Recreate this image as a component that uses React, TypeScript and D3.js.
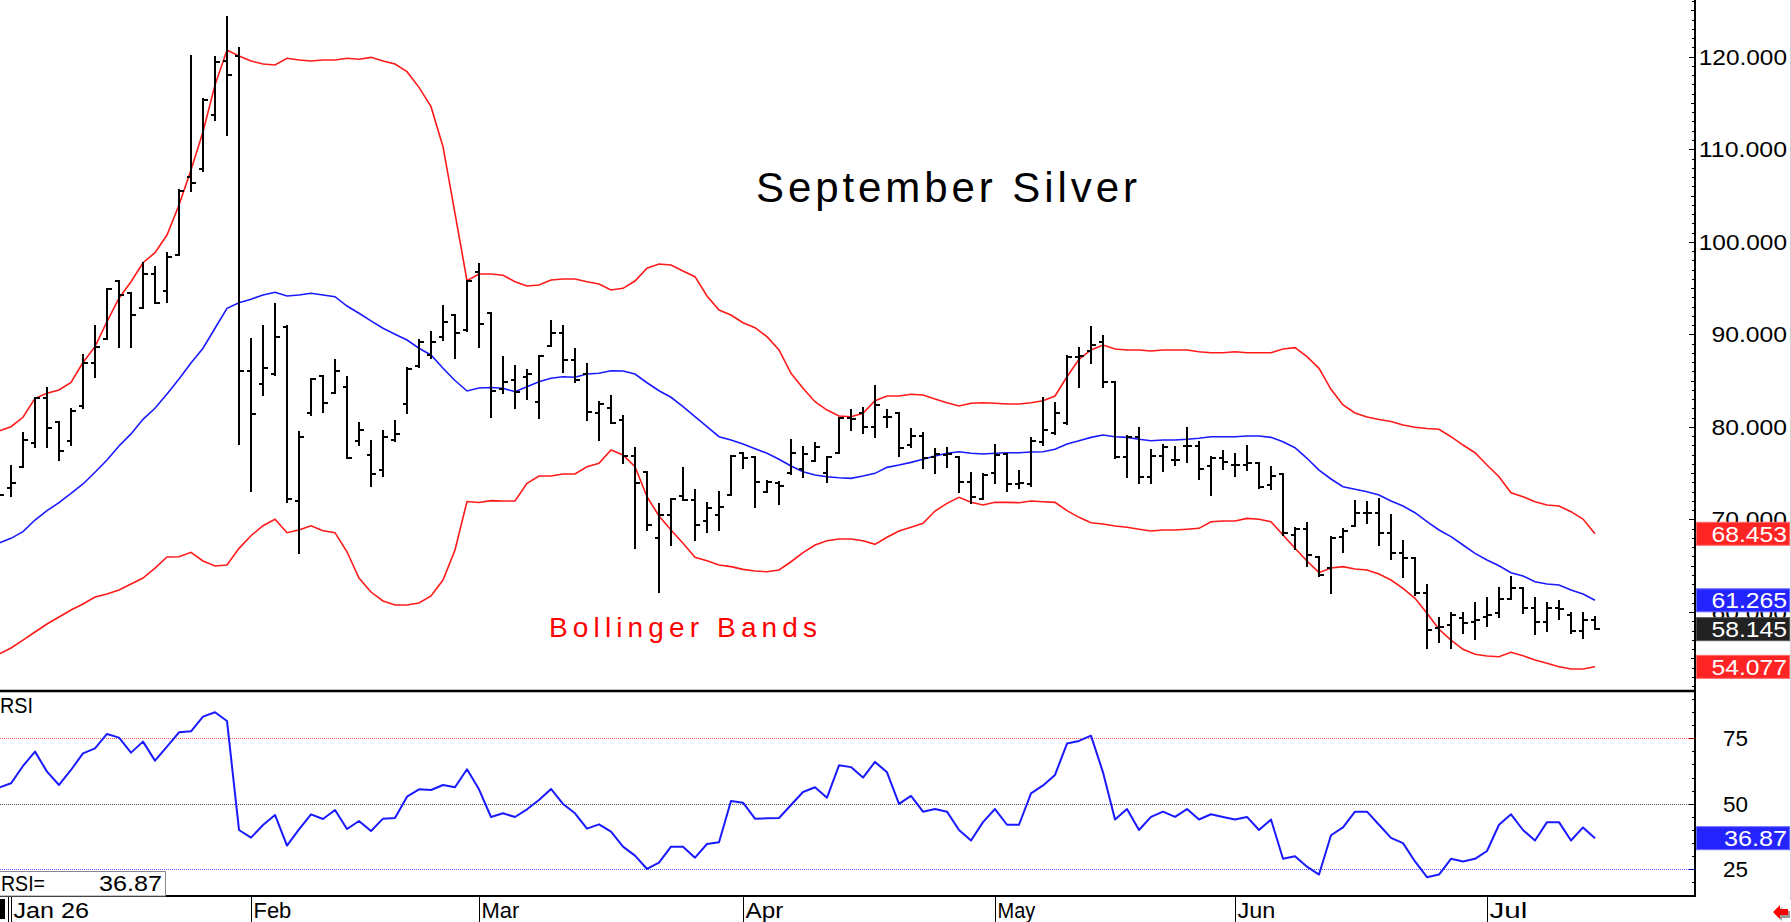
import * as d3 from "d3"

// bar index: -1 = last December session, 0 = Jan 2 ... 132 = Jul 15
const barIdx = d3.range(-1, 133)

const monthLabels = ["Jan 26", "Feb", "Mar", "Apr", "May", "Jun", "Jul"]
const monthStart = [0, 20, 39, 61, 82, 102, 123]

const opens = [
  73.0, 73.43, 75.7, 78.3, 83.16, 80.5, 78.51, 82.29, 86.94, 89.46, 95.76,
  94.44, 92.81, 96.52, 94.72, 98.57, 107.03, 107.83, 113.7, 119.57, 120.08,
  86.0, 84.63, 85.72, 90.83, 71.99, 81.47, 85.5, 83.7, 84.34, 78.51,
  76.96, 75.34, 78.58, 82.47, 86.58, 87.77, 89.71, 92.09, 90.47, 96.77,
  92.27, 84.06, 85.07, 85.39, 82.72, 88.74, 90.11, 87.23, 85.68, 81.47,
  82.01, 80.75, 76.86, 75.16, 68.03, 70.48, 72.57, 72.1, 69.86, 70.48,
  72.64, 77.15, 76.71, 73.0, 73.91, 74.99, 75.42, 76.35, 74.99, 77.15,
  80.93, 81.47, 80.02, 81.1, 81.47, 78.04, 79.05, 76.78, 76.96, 76.78,
  74.08, 72.21, 75.05, 77.07, 73.8, 73.8, 78.4, 79.31, 80.45, 87.52,
  88.23, 89.21, 84.88, 76.78, 78.88, 74.62, 76.86, 76.42, 77.97, 77.97,
  75.81, 76.61, 75.88, 75.88, 76.13, 73.72, 74.88, 68.32, 68.94, 65.97,
  64.72, 68.07, 69.29, 70.73, 70.73, 68.5, 66.34, 65.8, 62.09, 58.24,
  58.6, 59.32, 58.95, 59.49, 59.86, 61.4, 62.56, 60.46, 58.95, 60.46,
  59.68, 57.98, 59.14,
]
const highs = [
  74.0, 75.78, 79.31, 83.16, 84.17, 80.5, 81.9, 87.77, 90.9, 94.87, 95.76,
  94.44, 97.68, 97.31, 98.76, 105.6, 120.08, 115.46, 120.0, 124.26, 120.91,
  89.46, 90.9, 93.29, 90.9, 79.48, 85.18, 85.5, 87.23, 85.36, 80.39,
  78.48, 79.59, 80.64, 86.33, 89.39, 90.29, 93.05, 92.09, 95.8, 97.6,
  92.27, 87.52, 86.61, 86.15, 87.69, 91.47, 90.9, 88.42, 86.76, 82.72,
  83.34, 81.18, 77.75, 75.16, 71.67, 72.21, 75.53, 73.18, 71.81, 73.0,
  76.86, 77.15, 76.71, 74.15, 74.08, 78.58, 77.86, 78.23, 76.71, 80.93,
  81.83, 82.01, 84.42, 81.83, 81.47, 79.77, 79.37, 77.61, 77.69, 76.78,
  74.99, 74.88, 78.04, 77.07, 75.23, 78.77, 83.16, 82.61, 87.66, 88.49,
  90.76, 89.82, 84.88, 79.05, 79.85, 77.5, 78.04, 77.86, 79.85, 78.4,
  76.71, 77.43, 77.07, 77.94, 76.13, 75.7, 74.88, 69.04, 69.58, 65.97,
  68.07, 68.93, 71.99, 71.92, 72.21, 70.48, 67.7, 65.8, 62.92, 59.32,
  59.93, 59.86, 60.94, 61.48, 62.56, 63.81, 62.56, 61.48, 61.01, 61.22,
  59.86, 59.93, 59.43,
]
const lows = [
  72.2, 72.57, 75.7, 77.8, 77.8, 76.42, 78.04, 82.01, 85.42, 89.46, 88.67,
  88.67, 92.81, 93.42, 93.53, 98.57, 105.52, 107.65, 113.16, 111.54, 78.15,
  73.11, 83.45, 85.61, 71.92, 66.41, 81.29, 81.64, 83.63, 76.61, 78.04,
  73.65, 74.73, 78.48, 81.53, 86.51, 87.41, 89.39, 87.41, 90.36, 88.67,
  81.04, 83.63, 82.01, 82.98, 80.93, 88.74, 85.96, 84.88, 80.75, 78.58,
  80.45, 76.13, 66.88, 68.86, 62.19, 67.24, 72.1, 67.78, 68.68, 68.86,
  72.64, 75.53, 71.38, 73.0, 71.67, 74.91, 74.62, 76.35, 74.08, 77.15,
  79.66, 79.31, 78.94, 80.02, 76.86, 77.86, 75.53, 74.99, 75.7, 73.0,
  71.81, 72.18, 73.97, 73.11, 73.37, 73.61, 78.04, 79.23, 80.31, 84.28,
  86.94, 84.28, 76.61, 74.62, 73.97, 73.97, 75.27, 75.88, 76.24, 74.34,
  72.64, 75.42, 74.69, 75.34, 73.37, 73.26, 68.32, 66.77, 64.97, 63.89,
  62.02, 66.45, 69.29, 69.65, 67.24, 65.69, 63.81, 61.84, 56.14, 56.79,
  56.08, 57.76, 57.05, 58.49, 59.43, 61.4, 59.93, 57.62, 57.98, 59.21,
  57.7, 57.16, 58.16,
]
const closes = [
  72.64, 73.91, 78.58, 83.16, 79.85, 77.4, 81.72, 86.94, 88.67, 94.87, 94.25,
  92.09, 96.52, 93.42, 98.39, 105.52, 106.39, 115.32, 119.46, 118.02, 86.04,
  81.36, 86.33, 89.75, 72.18, 78.94, 85.18, 82.61, 86.07, 76.67, 79.66,
  74.88, 78.88, 79.23, 86.26, 89.21, 89.21, 91.33, 90.18, 95.8, 91.08,
  83.93, 84.88, 83.8, 85.72, 87.69, 90.11, 87.23, 85.07, 81.58, 82.47,
  80.45, 76.86, 73.97, 69.4, 70.48, 72.21, 72.1, 69.4, 71.2, 71.31,
  76.86, 76.61, 74.08, 74.08, 73.6, 77.15, 77.07, 77.8, 76.71, 80.93,
  80.85, 80.02, 82.37, 81.1, 77.69, 79.05, 76.61, 77.04, 77.07, 74.08,
  72.46, 74.8, 76.96, 73.83, 73.91, 78.48, 79.66, 81.53, 87.52, 87.66,
  88.85, 84.88, 76.78, 78.88, 74.62, 76.86, 77.86, 76.42, 77.97, 75.45,
  76.61, 76.24, 75.88, 76.07, 73.54, 74.69, 68.57, 68.94, 66.16, 64.0,
  67.96, 68.79, 70.66, 70.73, 68.5, 66.34, 65.8, 62.09, 58.02, 58.35,
  59.68, 58.84, 59.14, 59.68, 61.4, 62.56, 60.46, 58.89, 60.46, 60.29,
  57.98, 59.14, 58.145,
]

const upperBand = [
  79.56, 80.02, 81.04, 83.09, 83.63, 83.99, 84.8, 86.96, 88.67, 91.37, 93.9,
  95.69, 97.74, 98.82, 100.73, 103.98, 107.76, 111.9, 116.94, 120.72, 120.07,
  119.53, 119.21, 119.1, 119.83, 119.64, 119.53, 119.64, 119.64, 119.83, 119.72,
  119.93, 119.53, 119.21, 118.38, 116.69, 114.6, 110.28, 103.08, 95.8, 96.52,
  96.52, 96.38, 95.69, 95.22, 95.33, 95.87, 95.98, 95.98, 95.69, 95.44,
  94.79, 94.97, 95.76, 97.14, 97.6, 97.49, 96.84, 96.23, 94.14, 92.63,
  92.09, 91.26, 90.72, 89.75, 88.31, 85.79, 84.17, 82.72, 81.82, 81.18,
  81.1, 81.47, 82.83, 83.34, 83.34, 83.52, 83.45, 83.01, 82.61, 82.26,
  82.55, 82.61, 82.55, 82.47, 82.47, 82.61, 82.83, 83.34, 85.42, 87.3,
  88.31, 88.85, 88.42, 88.31, 88.31, 88.2, 88.31, 88.31, 88.31, 88.12,
  88.02, 88.02, 88.12, 88.02, 88.02, 88.02, 88.42, 88.56, 87.59, 86.33,
  84.06, 82.37, 81.5, 81.07, 80.8, 80.58, 80.2, 79.96, 79.83, 79.74,
  78.94, 78.04, 77.21, 75.88, 74.62, 72.89, 72.46, 71.92, 71.56, 71.45,
  70.84, 70.05, 68.453,
]
const middleBand = [
  67.46, 67.96, 68.68, 69.94, 70.95, 71.81, 72.83, 73.83, 75.1, 76.43, 77.94,
  79.24, 80.82, 82.01, 83.56, 85.18, 86.91, 88.5, 90.66, 92.82, 93.42,
  93.79, 94.26, 94.55, 94.15, 94.26, 94.44, 94.26, 94.07, 93.06, 92.28,
  91.45, 90.66, 90.01, 89.39, 88.5, 87.77, 86.33, 85.01, 83.88, 84.2,
  84.26, 84.17, 83.8, 84.34, 84.88, 85.25, 85.42, 85.36, 85.71, 85.79,
  86.07, 86.04, 85.71, 84.77, 83.91, 83.2, 82.18, 81.1, 80.02, 78.94,
  78.58, 78.15, 77.64, 77.15, 76.5, 75.77, 75.16, 74.8, 74.62, 74.51,
  74.44, 74.69, 74.98, 75.63, 75.88, 76.17, 76.5, 76.86, 77.15, 77.32,
  77.15, 77.07, 77.15, 77.21, 77.21, 77.29, 77.32, 77.58, 78.15, 78.51,
  78.87, 79.12, 78.94, 78.87, 78.66, 78.51, 78.58, 78.58, 78.66, 78.77,
  78.94, 78.94, 78.94, 79.02, 79.02, 78.87, 78.4, 77.75, 76.61, 75.34,
  74.37, 73.54, 73.26, 73.0, 72.64, 71.99, 71.45, 70.73, 69.76, 68.86,
  68.14, 67.24, 66.34, 65.62, 65.0, 64.25, 63.89, 63.27, 63.02, 62.92,
  62.37, 61.94, 61.265,
]
const lowerBand = [
  55.46, 56.11, 56.97, 57.84, 58.7, 59.46, 60.21, 60.86, 61.62, 61.94, 62.37,
  63.02, 63.67, 64.75, 65.94, 65.97, 66.45, 65.51, 64.97, 65.08, 66.88,
  68.24, 69.32, 70.02, 68.57, 68.86, 69.32, 68.78, 68.57, 66.51, 63.67,
  62.16, 61.19, 60.76, 60.76, 60.97, 61.73, 63.46, 66.7, 71.94, 71.83,
  72.03, 71.99, 71.99, 73.91, 74.69, 74.69, 74.91, 74.91, 75.7, 76.07,
  77.5, 76.96, 75.7, 72.46, 70.37, 68.86, 67.42, 65.91, 65.54, 65.08,
  64.9, 64.61, 64.43, 64.35, 64.54, 65.43, 66.41, 67.24, 67.7, 67.89,
  67.89, 67.7, 67.31, 68.07, 68.75, 69.15, 69.58, 70.91, 71.74, 72.39,
  71.85, 71.56, 71.85, 71.85, 71.81, 71.99, 71.92, 71.85, 70.95, 70.23,
  69.65, 69.51, 69.29, 69.15, 68.94, 68.75, 68.86, 68.86, 68.94, 69.04,
  69.76, 69.83, 69.83, 70.12, 70.02, 69.76, 68.32, 66.88, 65.51, 64.25,
  64.75, 64.9, 64.65, 64.54, 64.11, 63.46, 62.56, 61.48, 59.86, 58.13,
  56.97, 55.97, 55.43, 55.25, 55.17, 55.65, 55.28, 54.82, 54.46, 54.09,
  53.85, 53.85, 54.077,
]
const rsiValues = [
  56.17, 57.82, 64.44, 69.91, 62.28, 57.19, 62.91, 69.27, 71.18, 76.65, 75.25,
  69.53, 73.73, 66.48, 71.82, 77.29, 77.67, 83.27, 84.92, 81.62, 40.01,
  37.09, 41.92, 45.74, 34.03, 40.27, 45.99, 44.21, 47.65, 40.39, 43.45,
  39.63, 44.34, 44.59, 52.73, 55.53, 55.28, 57.19, 56.3, 63.17, 55.53,
  44.97, 46.37, 44.97, 47.9, 51.46, 55.66, 49.94, 46.37, 40.52, 42.17,
  39.38, 33.65, 30.22, 25.13, 27.54, 33.65, 33.65, 29.45, 34.67, 35.3,
  51.08, 50.44, 44.34, 44.46, 44.59, 49.55, 54.52, 56.3, 52.35, 64.69,
  64, 60, 66, 62, 50, 53, 47, 48, 47, 40,
  36, 43, 48, 42, 42, 54, 57, 61, 73, 74,
  76, 62, 44, 48, 40, 45, 47, 45, 48, 44,
  46, 45, 44, 45, 40, 44, 29, 30, 26, 23,
  38, 41, 47, 47, 42, 37, 35, 28, 22, 23,
  29, 28, 29, 32, 42, 46, 40, 36, 43, 43,
  36, 41, 36.87,
]

const priceLabels = [60, 70, 80, 90, 100, 110, 120]
const lastTags = [
  { value: 68.453, text: "68.453", fill: "#ff2424", stroke: "#ff6a6a" },
  { value: 61.265, text: "61.265", fill: "#2424ff", stroke: "#6a6aff" },
  { value: 58.145, text: "58.145", fill: "#222222", stroke: "#555555" },
  { value: 54.077, text: "54.077", fill: "#ff2424", stroke: "#ff6a6a" },
]
const rsiLevels = [
  { value: 75, color: "#ff5a5a", tick: "#8b0000" },
  { value: 50, color: "#555555", tick: "#000000" },
  { value: 25, color: "#5a5aff", tick: "#00008b" },
]
const lastRsi = 36.87

const W = 1791
const H = 922
const AXIS_X = 1695
const FONT = "'Liberation Sans', Arial, sans-serif"

export default function App() {
  const x = d3.scaleLinear().domain([-1, 132]).range([-1, 1595])
  const y = d3.scaleLinear().domain([51.465, 126.126]).range([691, 0])
  const yR = d3.scaleLinear().domain([14.43, 92.67]).range([897, 692])

  const bandLine = d3
    .line<number>()
    .x((_, i) => x(barIdx[i]))
    .y((d) => y(d))
  const rsiLine = d3
    .line<number>()
    .x((_, i) => x(barIdx[i]))
    .y((d) => yR(d))

  const priceTicks = d3.range(52, 127)
  const rsiTicks = d3.range(15, 95, 5)

  return (
    <>
      <style>{`body{margin:0;background:#fff}`}</style>
      <svg width={W} height={H} style={{ display: "block" }} fontFamily={FONT}>
        <rect width={W} height={H} fill="#fff" />

        {/* title + band legend */}
        <text x={756} y={202} fontSize={42} textLength={381} lengthAdjust="spacing" fill="#000">
          September Silver
        </text>
        <text x={549} y={637} fontSize={28} textLength={268} lengthAdjust="spacing" fill="#ff0000">
          Bollinger Bands
        </text>

        {/* bollinger bands */}
        <path d={bandLine(upperBand) || ""} fill="none" stroke="#ff1a1a" strokeWidth={1.6} />
        <path d={bandLine(lowerBand) || ""} fill="none" stroke="#ff1a1a" strokeWidth={1.6} />
        <path d={bandLine(middleBand) || ""} fill="none" stroke="#1a1aff" strokeWidth={1.6} />

        {/* OHLC bars */}
        <g stroke="#000" strokeWidth={2} shapeRendering="crispEdges">
          {barIdx.map((b, i) => {
            const cx = Math.round(x(b))
            return (
              <g key={b}>
                <line x1={cx} x2={cx} y1={y(highs[i]) - 1} y2={y(lows[i]) + 1} />
                <line x1={cx - 4} x2={cx} y1={Math.round(y(opens[i]))} y2={Math.round(y(opens[i]))} />
                <line x1={cx} x2={cx + 5} y1={Math.round(y(closes[i]))} y2={Math.round(y(closes[i]))} />
              </g>
            )
          })}
        </g>

        {/* price axis */}
        <line x1={1790.5} x2={1790.5} y1={0} y2={900} stroke="#d4d4d4" strokeWidth={1} />
        <g shapeRendering="crispEdges">
          <line x1={AXIS_X} x2={AXIS_X} y1={0} y2={897} stroke="#000" strokeWidth={2} />
          {priceTicks.map((v) => {
            const len = v % 10 === 0 ? 6 : v % 5 === 0 ? 4.5 : 3
            return (
              <line key={v} x1={AXIS_X - len} x2={AXIS_X} y1={Math.round(y(v)) + 0.5} y2={Math.round(y(v)) + 0.5} stroke="#000" strokeWidth={1} />
            )
          })}
        </g>
        {priceLabels.map((v) => {
          const t = `${v}.000`
          return (
            <text key={v} x={1787} y={y(v) + 8} fontSize={22} textAnchor="end" textLength={t.length * 12.6} lengthAdjust="spacingAndGlyphs" fill="#000">
              {t}
            </text>
          )
        })}
        {lastTags.map((tag) => (
          <g key={tag.text}>
            <rect x={1696.5} y={y(tag.value) - 11.5} width={93} height={23} fill={tag.fill} stroke={tag.stroke} strokeWidth={1} />
            <text x={1787} y={y(tag.value) + 8} fontSize={22} textAnchor="end" textLength={75.6} lengthAdjust="spacingAndGlyphs" fill="#fff">
              {tag.text}
            </text>
          </g>
        ))}

        {/* panel separators */}
        <line x1={0} x2={AXIS_X} y1={691} y2={691} stroke="#000" strokeWidth={2.5} />
        <line x1={0} x2={AXIS_X} y1={896} y2={896} stroke="#000" strokeWidth={2} />

        {/* RSI panel */}
        {rsiLevels.map((lv) => (
          <line key={lv.value} x1={0} x2={AXIS_X - 1} y1={Math.round(yR(lv.value)) + 0.5} y2={Math.round(yR(lv.value)) + 0.5} stroke={lv.color} strokeWidth={1} strokeDasharray="1,1" />
        ))}
        <g shapeRendering="crispEdges">
          {rsiTicks.map((v) => {
            const lv = rsiLevels.find((l) => l.value === v)
            return (
              <line key={v} x1={AXIS_X - (lv ? 6 : 3)} x2={AXIS_X} y1={Math.round(yR(v)) + 0.5} y2={Math.round(yR(v)) + 0.5} stroke={lv ? lv.tick : "#000"} strokeWidth={1} />
            )
          })}
        </g>
        <path d={rsiLine(rsiValues) || ""} fill="none" stroke="#1a1aff" strokeWidth={2} strokeLinejoin="round" />
        {rsiLevels.map((lv) => (
          <text key={lv.value} x={1748} y={yR(lv.value) + 8} fontSize={22} textAnchor="end" textLength={25} lengthAdjust="spacingAndGlyphs" fill="#000">
            {lv.value}
          </text>
        ))}
        <rect x={1696.5} y={yR(lastRsi) - 11.5} width={93} height={23} fill="#2424ff" stroke="#6a6aff" strokeWidth={1} />
        <text x={1787} y={yR(lastRsi) + 8} fontSize={22} textAnchor="end" textLength={63} lengthAdjust="spacingAndGlyphs" fill="#fff">
          {lastRsi.toFixed(2)}
        </text>
        <text x={0} y={713} fontSize={22} textLength={33} lengthAdjust="spacingAndGlyphs" fill="#000">
          RSI
        </text>
        <rect x={-1} y={871.5} width={166.5} height={24.5} fill="#fff" stroke="#888" strokeWidth={1} />
        <text x={1} y={891} fontSize={22} textLength={44} lengthAdjust="spacingAndGlyphs" fill="#000">
          RSI=
        </text>
        <text x={162} y={891} fontSize={22} textAnchor="end" textLength={63} lengthAdjust="spacingAndGlyphs" fill="#000">
          {lastRsi.toFixed(2)}
        </text>

        {/* date axis */}
        <rect x={0} y={899} width={5} height={20} fill="#000" />
        <line x1={8.5} x2={8.5} y1={897} y2={922} stroke="#000" strokeWidth={1} />
        {monthLabels.map((m, i) => {
          const mx = Math.round(x(monthStart[i])) + 0.5
          return (
            <g key={m}>
              <line x1={mx} x2={mx} y1={897} y2={922} stroke="#000" strokeWidth={1} />
              <text x={mx + 2} y={918} fontSize={22} textLength={m.length * 12.6} lengthAdjust="spacingAndGlyphs" fill="#000">
                {m}
              </text>
            </g>
          )
        })}

        {/* scroll arrow */}
        <polygon points="1775,914 1782,907 1782,911 1790,911 1790,918 1782,918 1782,921" fill="#999" />
        <polygon points="1773,912 1780,905 1780,909 1788,909 1788,915 1780,915 1780,919" fill="#ff0000" />
      </svg>
    </>
  )
}
